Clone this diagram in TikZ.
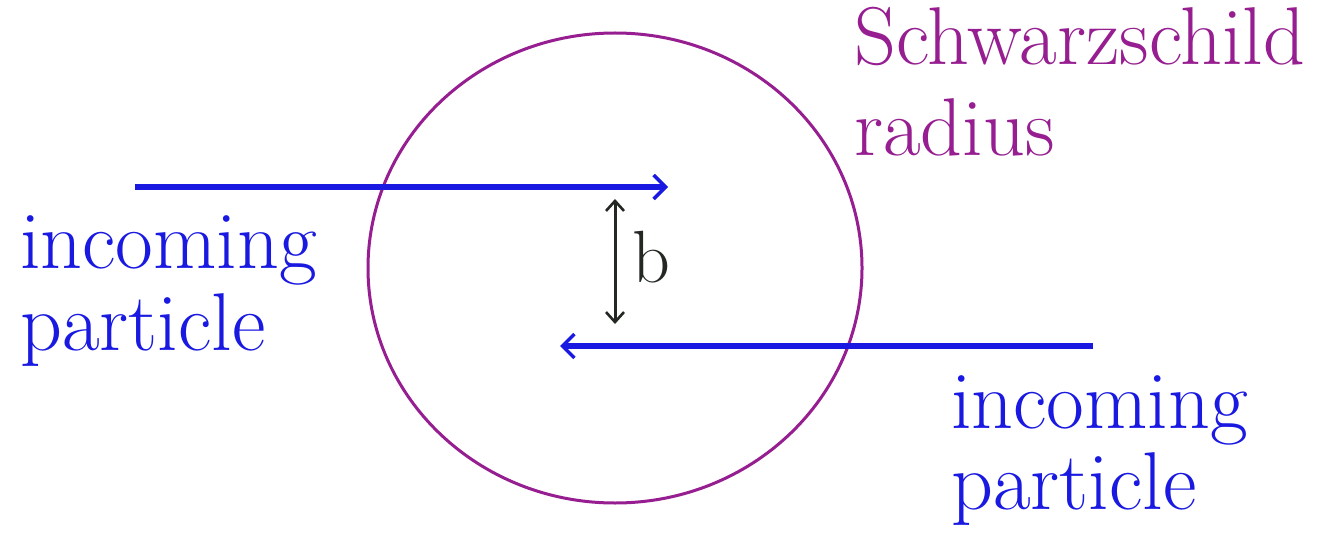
\documentclass[tikz,border=0pt]{standalone}
\usetikzlibrary{arrows.meta,shapes.geometric}
\definecolor{schw}{RGB}{150,30,145}
\definecolor{partblue}{RGB}{25,25,225}
\definecolor{darkline}{RGB}{35,40,35}
\tikzset{
  lbl/.style={inner sep=0pt, anchor=base west, font=\fontsize{82}{86}\selectfont},
  bluetxt/.style={lbl, text=partblue},
  purtxt/.style={lbl, text=schw},
  particlearrow/.style={draw=partblue, line width=5.5pt, -{Straight Barb[length=12pt,width=24pt,line width=3.5pt]}},
  barrow/.style={draw=darkline, line width=3pt, {Straight Barb[length=10pt,width=18pt,line width=2.6pt]}-{Straight Barb[length=10pt,width=18pt,line width=2.6pt]}}
}
\begin{document}
\begin{tikzpicture}[x=1pt,y=-1pt]
\useasboundingbox (0,0) rectangle (1330,540);
\fill[white] (0,0) rectangle (1330,540);
% Schwarzschild radius circle
\node[draw=schw, line width=3pt, ellipse, minimum width=494pt, minimum height=470pt, inner sep=0pt] (horizon) at (615,268) {};
% particle paths
\coordinate (p1s) at (135,187);
\coordinate (p1e) at (668,187);
\coordinate (p2s) at (1093,346);
\coordinate (p2e) at (560,346);
\draw[particlearrow] (p1s) -- (p1e);
\draw[particlearrow] (p2s) -- (p2e);
% impact parameter
\coordinate (bt) at (615,199);
\coordinate (bb) at (615,324);
\draw[barrow] (bt) -- (bb);
\node[lbl, text=darkline, font=\fontsize{74}{78}\selectfont] (blabel) at (632,282) {b};
% labels
\node[bluetxt] (in1a) at (20,268) {incoming};
\node[bluetxt] (in1b) at (20,350) {particle};
\node[bluetxt] (in2a) at (951,428) {incoming};
\node[bluetxt] (in2b) at (951,509) {particle};
\node[purtxt] (sch1) at (854,65) {Schwarzschild};
\node[purtxt] (sch2) at (854,156) {radius};
\end{tikzpicture}
\end{document}
